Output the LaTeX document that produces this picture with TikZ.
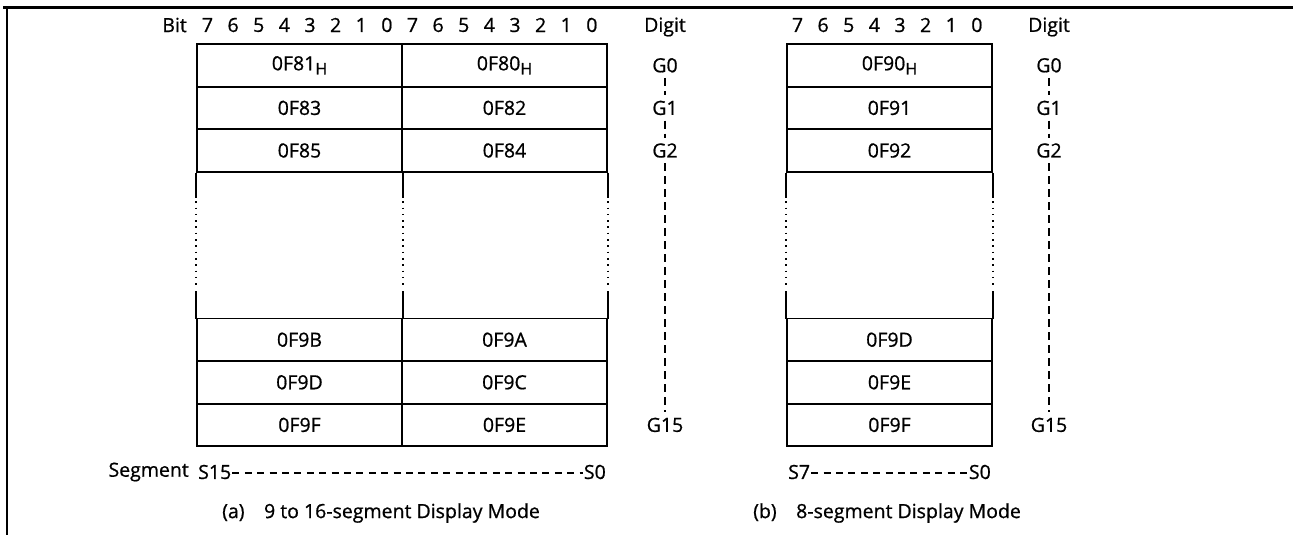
\documentclass[tikz,border=0pt]{standalone}
\usepackage{fontspec}
\setmainfont{Open Sans}[FakeBold=0.8]
\usetikzlibrary{positioning}

\newcommand{\hsub}{\raisebox{-0.4ex}{\fontsize{16}{16}\selectfont H}}

\begin{document}
\begin{tikzpicture}[x=1pt,y=-1pt,font=\fontsize{19.5}{22}\selectfont,
  cell/.style={draw,line width=1.8pt,minimum width=205pt,minimum height=42.6pt,inner sep=0pt},
  wall/.style={line width=1.8pt},
  wallgap/.style={line width=1.6pt,dash pattern=on 1.6pt off 4.7pt},
  gdash/.style={line width=1.4pt,dash pattern=on 8pt off 5pt,shorten <=2pt,shorten >=2pt},
  segdash/.style={line width=1.4pt,dash pattern=on 7pt off 5.4pt},
  lbl/.style={inner sep=1pt}]
  \useasboundingbox (0,0) rectangle (1293,535);
  % frame
  \draw[line width=3pt] (3,8) -- (1293,8);
  \draw[line width=2pt] (7,8) -- (7,535);

  % bit numbers
  \node[lbl,anchor=east] (bita) at (188,25) {Bit};
  \foreach \i in {0,...,15}{
    \pgfmathtruncatemacro{\bv}{7-mod(\i,8)}
    \node (bta\i) at (197+25.625*\i+10.5,25) {\bv};}
  \foreach \i in {0,...,7}{
    \pgfmathtruncatemacro{\bv}{7-\i}
    \node (btb\i) at (787+25.625*\i+10.5,25) {\bv};}
  \node (dga) at (665,27) {Digit};
  \node (dgb) at (1049,27) {Digit};

  % (a) cells
  \foreach \r/\yc/\hi/\lo in {0/65.3/0F81\hsub/0F80\hsub,1/107.9/0F83/0F82,2/150.5/0F85/0F84,
                              3/339.7/0F9B/0F9A,4/382.3/0F9D/0F9C,5/424.9/0F9F/0F9E}{
    \node[cell] (al\r) at (299.5,\yc) {\hi};
    \node[cell] (ar\r) at (504.5,\yc) {\lo};}
  % (b) cells
  \foreach \r/\yc/\v in {0/65.3/0F90\hsub,1/107.9/0F91,2/150.5/0F92,
                         3/339.7/0F9D,4/382.3/0F9E,5/424.9/0F9F}{
    \node[cell] (bc\r) at (889.5,\yc) {\v};}

  % broken walls
  \foreach \n/\a in {al2/south west,al2/south east,ar2/south east,bc2/south west,bc2/south east}{
    \draw[wall] (\n.\a) -- ++(0,25);
    \draw[wallgap] ([yshift=-28.5pt]\n.\a) -- ++(0,88);
    \draw[wall] ([yshift=-118.5pt]\n.\a) -- ++(0,28);}

  % digit lines
  \foreach \c/\x in {a/665,b/1049}{
    \node (g0\c) at (\x,65.3) {G0};
    \node (g1\c) at (\x,107.9) {G1};
    \node (g2\c) at (\x,150.5) {G2};
    \node (g15\c) at (\x,424.9) {G15};
    \draw[gdash] (g0\c) -- (g1\c);
    \draw[gdash] (g1\c) -- (g2\c);
    \draw[gdash] (g2\c) -- (g15\c);}

  % segments
  \node[lbl,anchor=east] (segl) at (190,472) {Segment};
  \node[lbl,anchor=west] (sa15) at (197,472) {S15};
  \node[lbl,anchor=east] (sa0) at (607,472) {S0};
  \draw[segdash] ([yshift=-1pt]sa15.east) -- ([yshift=-1pt]sa0.west);
  \node[lbl,anchor=west] (sb7) at (787,472) {S7};
  \node[lbl,anchor=east] (sb0) at (992,472) {S0};
  \draw[segdash] ([yshift=-1pt]sb7.east) -- ([yshift=-1pt]sb0.west);

  % captions
  \node[lbl,anchor=west] (capa) at (221,513) {(a)\hspace{1em}9 to 16-segment Display Mode};
  \node[lbl,anchor=west] (capb) at (752,513) {(b)\hspace{1em}8-segment Display Mode};
\end{tikzpicture}
\end{document}
